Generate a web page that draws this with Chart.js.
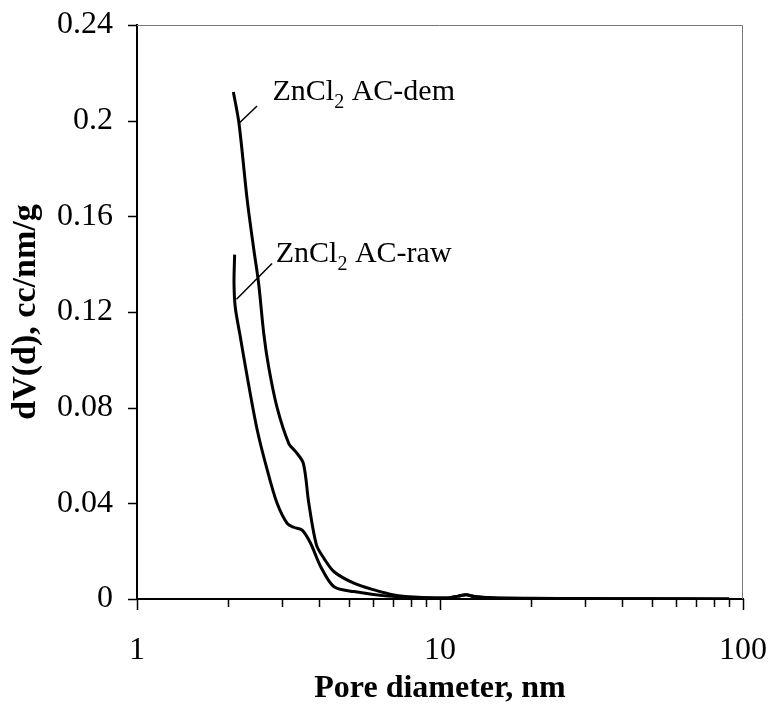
<!DOCTYPE html>
<html>
<head>
<meta charset="utf-8">
<script src="https://cdn.jsdelivr.net/npm/chart.js@4"></script>
<style>
html,body{margin:0;padding:0;background:#fff;}
#wrap{width:772px;height:724px;}
</style>
</head>
<body>
<div id="wrap"><canvas id="c" width="772" height="724"></canvas></div>
<script>
// Pore diameter (nm) and dV(d) (cc/nm/g)
const rawDiameter = [2.10, 2.09, 2.11, 2.19, 2.31, 2.49, 2.69, 2.90, 3.13, 3.29, 3.51, 3.74, 4.04, 4.47, 5.20, 6.71, 8.5, 10.5, 11.5, 12.2, 13.0, 15, 20, 30, 50, 90];
const rawDV       = [0.144, 0.132, 0.122, 0.110, 0.093, 0.071, 0.054, 0.040, 0.0316, 0.030, 0.0288, 0.0233, 0.0135, 0.0051, 0.0031, 0.0012, 0.0006, 0.0004, 0.0012, 0.0018, 0.0010, 0.0004, 0.0002, 0.0001, 0.0001, 0];
const demDiameter = [2.08, 2.17, 2.31, 2.43, 2.52, 2.62, 2.72, 2.90, 3.17, 3.34, 3.54, 3.69, 3.91, 4.14, 4.47, 5.20, 6.06, 7.05, 8.2, 10.5, 11.5, 12.2, 13.0, 15, 20, 30, 50, 90];
const demDV       = [0.212, 0.199, 0.167, 0.146, 0.132, 0.111, 0.097, 0.080, 0.065, 0.0616, 0.0567, 0.040, 0.0226, 0.017, 0.0114, 0.0066, 0.0038, 0.0017, 0.0008, 0.0004, 0.0012, 0.0018, 0.0010, 0.0005, 0.0003, 0.0002, 0.0001, 0];
const xTickLabels = [1, 10, 100];
const yTickValues = [0, 0.04, 0.08, 0.12, 0.16, 0.2, 0.24];
const seriesNames = ['ZnCl2 AC-dem', 'ZnCl2 AC-raw'];
// label anchor points in data units: [text x, text baseline y, leader from x, y, leader to x, y]
const labelAnchors = [
  [2.80, 0.2086, 2.49, 0.2061, 2.18, 0.1991],
  [2.87, 0.1409, 2.79, 0.1403, 2.13, 0.1253]
];

const FONT = "'Liberation Serif','Times New Roman',serif";
const pts = (xs, ys) => xs.map((x, i) => ({x: x, y: ys[i]}));

const decor = {
  id: 'decor',
  afterDraw(chart) {
    const ctx = chart.ctx, a = chart.chartArea;
    const xs = chart.scales.x, ys = chart.scales.y;
    ctx.save();
    // top & right frame
    ctx.strokeStyle = '#777'; ctx.lineWidth = 1;
    ctx.beginPath();
    ctx.moveTo(a.left, a.top + 0.5); ctx.lineTo(a.right - 0.5, a.top + 0.5); ctx.lineTo(a.right - 0.5, a.bottom);
    ctx.stroke();
    // y ticks
    ctx.strokeStyle = '#000'; ctx.lineWidth = 1.5;
    ctx.beginPath();
    yTickValues.forEach(v => {
      const y = Math.round(ys.getPixelForValue(v)) + 0.5;
      ctx.moveTo(a.left - 9, y); ctx.lineTo(a.left, y);
    });
    ctx.stroke();
    // x ticks (log major/minor)
    ctx.beginPath();
    for (let d = 1; d <= 100; d *= 10) {
      for (let m = 1; m <= 9; m++) {
        const v = d * m;
        if (v > 100) break;
        const x = Math.round(xs.getPixelForValue(v)) + 0.5;
        const len = (m === 1) ? 11 : 8;
        ctx.moveTo(x, a.bottom); ctx.lineTo(x, a.bottom + len);
      }
    }
    ctx.stroke();
    // series labels
    ctx.fillStyle = '#000';
    ctx.textBaseline = 'alphabetic';
    labelAnchors.forEach((an, i) => {
      const name = seriesNames[i];
      const tx = xs.getPixelForValue(an[0]), ty = ys.getPixelForValue(an[1]);
      const parts = [name.slice(0, 4), name.slice(4, 5), name.slice(5)];
      ctx.font = '30px ' + FONT;
      ctx.fillText(parts[0], tx, ty);
      let x = tx + ctx.measureText(parts[0]).width;
      ctx.font = '20px ' + FONT;
      ctx.fillText(parts[1], x, ty + 8);
      x += ctx.measureText(parts[1]).width;
      ctx.font = '30px ' + FONT;
      ctx.fillText(parts[2], x, ty);
      ctx.lineWidth = 1.5;
      ctx.beginPath();
      ctx.moveTo(xs.getPixelForValue(an[2]), ys.getPixelForValue(an[3]));
      ctx.lineTo(xs.getPixelForValue(an[4]), ys.getPixelForValue(an[5]));
      ctx.stroke();
    });
    ctx.restore();
  }
};

new Chart(document.getElementById('c'), {
  type: 'line',
  data: {
    datasets: [
      {label: seriesNames[0], data: pts(demDiameter, demDV), borderColor: '#000', borderWidth: 3, pointRadius: 0, tension: 0.3, fill: false},
      {label: seriesNames[1], data: pts(rawDiameter, rawDV), borderColor: '#000', borderWidth: 3, pointRadius: 0, tension: 0.3, fill: false}
    ]
  },
  options: {
    responsive: false,
    animation: false,
    layout: {padding: {top: 25, right: 29, left: 0, bottom: 0}},
    plugins: {legend: {display: false}, tooltip: {enabled: false}},
    scales: {
      x: {
        type: 'logarithmic', min: 1, max: 100,
        grid: {display: false, drawTicks: false},
        border: {display: true, color: '#000', width: 2},
        afterFit: s => { s.height = 125; s.paddingLeft = 0; s.paddingRight = 0; },
        ticks: {
          autoSkip: false, maxRotation: 0, padding: 32, color: '#000',
          font: {family: FONT, size: 32},
          callback: v => xTickLabels.includes(v) ? String(v) : ''
        },
        title: {display: true, text: 'Pore diameter, nm', color: '#000', font: {family: FONT, size: 32, weight: 'bold'}, padding: {top: 0, bottom: 16}}
      },
      y: {
        min: 0, max: 0.24,
        grid: {display: false, drawTicks: false},
        border: {display: true, color: '#000', width: 2},
        afterFit: s => { s.width = 137; s.paddingTop = 0; s.paddingBottom = 0; },
        afterBuildTicks: s => { s.ticks = yTickValues.map(v => ({value: v})); },
        ticks: {
          padding: 24, color: '#000',
          font: {family: FONT, size: 32},
          callback: v => String(v)
        },
        title: {display: true, text: 'dV(d), cc/nm/g', color: '#000', font: {family: FONT, size: 34, weight: 'bold'}, padding: {top: 6, bottom: 0}}
      }
    }
  },
  plugins: [decor]
});
</script>
</body>
</html>
